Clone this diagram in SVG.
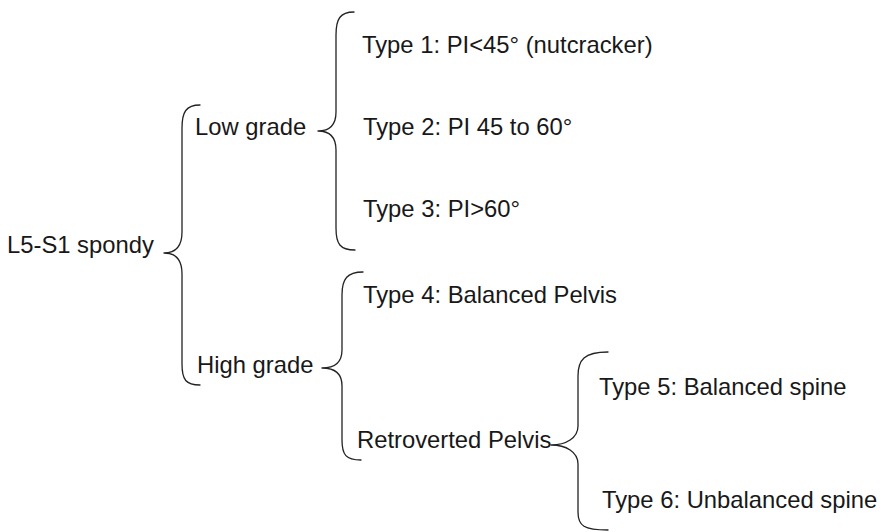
<svg xmlns="http://www.w3.org/2000/svg" width="883" height="532" viewBox="0 0 883 532">
  <style>
    .label { font-family: "Liberation Sans", Arial, sans-serif; font-size: 23.8px; fill: #181818; }
    .brace { fill: none; stroke: #222; stroke-width: 1.3; stroke-linecap: round; stroke-linejoin: round; }
  </style>
  <rect width="883" height="532" fill="#fff"/>

  <!-- braces joining each category to its subtypes -->
  <g id="connectors">
    <path class="brace" d="M200 105 C186 105 182 112 182 128 L182 232 C182 246 176 253 164 253 C176 253 182 260 182 274 L182 364 C182 380 186 385 200 385"/>
    <path class="brace" d="M354 12 C340 12 336 19 336 35 L336 112 C336 125 330 131 318 131 C330 131 336 137 336 150 L336 228 C336 244 340 250 355 250"/>
    <path class="brace" d="M363 272 C347 272 342 279 342 295 L342 350 C342 362 335 368 322 368 C335 368 342 374 342 386 L342 440 C342 455 346 460 361 460"/>
    <path class="brace" d="M608 352 C584 352 578 360 578 376 L578 426 C578 438 566 445 551 445 C566 445 578 452 578 464 L578 512 C578 526 584 530 608 530"/>
  </g>

  <g id="root"><text class="label" x="7" y="253">L5-S1 spondy</text></g>
  <g id="low-grade"><text class="label" x="195" y="135">Low grade</text></g>
  <g id="high-grade"><text class="label" x="197" y="373">High grade</text></g>
  <g id="type1"><text class="label" x="362" y="53">Type 1: PI&lt;45° (nutcracker)</text></g>
  <g id="type2"><text class="label" x="363" y="135">Type 2: PI 45 to 60°</text></g>
  <g id="type3"><text class="label" x="363" y="217">Type 3: PI&gt;60°</text></g>
  <g id="type4"><text class="label" x="363" y="303">Type 4: Balanced Pelvis</text></g>
  <g id="retroverted"><text class="label" x="357" y="448">Retroverted Pelvis</text></g>
  <g id="type5"><text class="label" x="599" y="395">Type 5: Balanced spine</text></g>
  <g id="type6"><text class="label" x="602" y="508">Type 6: Unbalanced spine</text></g>
</svg>
